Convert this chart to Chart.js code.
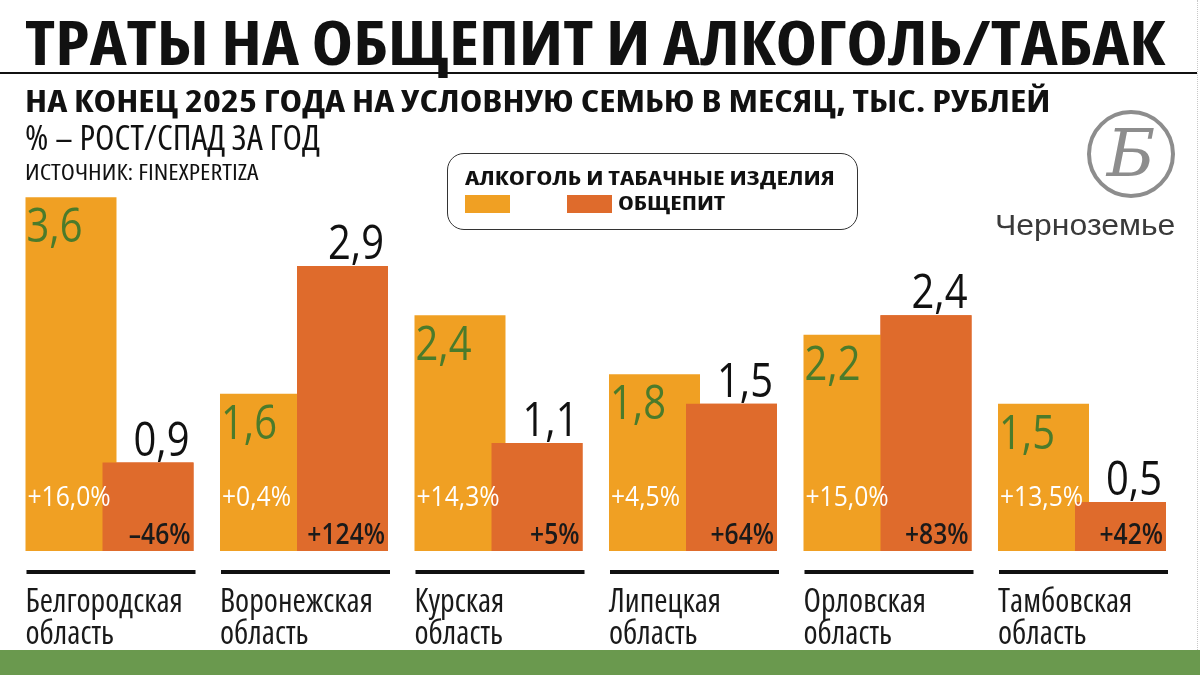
<!DOCTYPE html>
<html lang="ru">
<head>
<meta charset="utf-8">
<script src="https://cdn.jsdelivr.net/npm/chart.js@4.4.1/dist/chart.umd.min.js"></script>
<style>
  body { margin: 0; background: #fff; }
  #wrap { position: relative; width: 1200px; height: 675px; overflow: hidden; background: #fff; }
  #chart { position: absolute; left: 0; top: 0; }
  .txt { position: absolute; white-space: nowrap; line-height: 1; transform-origin: 0 0; color: #111; font-family: 'Open Sans', sans-serif; }
  #rule { position: absolute; left: 0; top: 72px; width: 1197px; height: 2px; background: #111; }
  #legend { position: absolute; left: 447px; top: 153px; width: 409px; height: 75px; border: 1.5px solid #333; border-radius: 17px; }
  .sw { position: absolute; top: 195px; width: 45px; height: 18px; }
  #logo { position: absolute; left: 1087px; top: 110px; width: 80px; height: 80px; border: 4px solid #8d8d8d; border-radius: 50%; }
  #glyph { position: absolute; left: 0; top: 0; width: 80px; height: 80px; text-align: center; line-height: 80px; font-family: 'DejaVu Serif', serif; font-style: italic; font-size: 66px; color: #8d8d8d; }
  #band { position: absolute; left: 0; top: 650px; width: 1200px; height: 25px; background: #6a994e; }
  #edge { position: absolute; left: 1197px; top: 0; width: 0; height: 650px; border-right: 1px dotted #c8c8c8; }
</style>
</head>
<body>
<div id="wrap">
  <canvas id="chart" width="1200" height="675"></canvas>
  <div class="txt" style="left:25px; top:12px; font-size:60px; font-weight:700; font-stretch:semi-condensed;" data-w="1140">ТРАТЫ НА ОБЩЕПИТ И АЛКОГОЛЬ/ТАБАК</div>
  <div id="rule"></div>
  <div class="txt" style="left:25px; top:85px; font-size:31px; font-weight:700; font-stretch:semi-condensed;" data-w="1025">НА КОНЕЦ 2025 ГОДА НА УСЛОВНУЮ СЕМЬЮ В МЕСЯЦ, ТЫС. РУБЛЕЙ</div>
  <div class="txt" style="left:25px; top:119px; font-size:35px; font-stretch:condensed;" data-w="295">% – РОСТ/СПАД ЗА ГОД</div>
  <div class="txt" style="left:25px; top:160px; font-size:22px; font-stretch:condensed;" data-w="233">ИСТОЧНИК: FINEXPERTIZA</div>
  <div id="legend"></div>
  <div class="txt" style="left:465px; top:168px; font-size:20px; font-weight:700; font-stretch:semi-condensed;" data-w="370">АЛКОГОЛЬ И ТАБАЧНЫЕ ИЗДЕЛИЯ</div>
  <div class="sw" style="left:465px; background:#f0a023;"></div>
  <div class="sw" style="left:567px; background:#df6b2c;"></div>
  <div class="txt" style="left:618px; top:193px; font-size:20px; font-weight:700; font-stretch:semi-condensed;" data-w="107">ОБЩЕПИТ</div>
  <div id="logo"><div id="glyph">Б</div></div>
  <div class="txt" style="left:995px; top:210px; font-size:30px; color:#3a3a3a; font-family:'Liberation Sans', Arial, sans-serif;" data-w="180">Черноземье</div>
  <div id="band"></div>
  <div id="edge"></div>
</div>
<script>
const regions = [
  ['Белгородская', 'область'],
  ['Воронежская', 'область'],
  ['Курская', 'область'],
  ['Липецкая', 'область'],
  ['Орловская', 'область'],
  ['Тамбовская', 'область'],
];
const alcoTobacco = [3.6, 1.6, 2.4, 1.8, 2.2, 1.5];
const catering    = [0.9, 2.9, 1.1, 1.5, 2.4, 0.5];
const alcoChange  = ['+16,0%', '+0,4%', '+14,3%', '+4,5%', '+15,0%', '+13,5%'];
const cateringChange = ['–46%', '+124%', '+5%', '+64%', '+83%', '+42%'];

const YELLOW = '#f0a023';
const ORANGE = '#df6b2c';
const GREEN_TEXT = '#4b7b2b';

// squeeze html text to the width it has in the picture
document.querySelectorAll('.txt[data-w]').forEach(el => {
  el.style.transform = `scaleX(${el.dataset.w / el.offsetWidth})`;
});

function drawText(ctx, str, x, y, font, color, align, sx) {
  ctx.save();
  ctx.translate(x, y);
  ctx.scale(sx, 1);
  ctx.font = font;
  ctx.fillStyle = color;
  ctx.textAlign = align;
  ctx.textBaseline = 'alphabetic';
  ctx.fillText(str, 0, 0);
  ctx.restore();
}

const barLabels = {
  id: 'barLabels',
  afterDatasetsDraw(chart) {
    const ctx = chart.ctx;
    const yMeta = chart.getDatasetMeta(0);
    const oMeta = chart.getDatasetMeta(1);
    // orange bar overlaps the yellow one, so paint it again on top
    oMeta.controller.draw();

    yMeta.data.forEach((bar, i) => {
      const left = bar.x - bar.width / 2;
      const val = alcoTobacco[i].toFixed(1).replace('.', ',');
      drawText(ctx, val, left + 1, bar.y + 45, "47px 'Open Sans'", GREEN_TEXT, 'left', 0.85);
      drawText(ctx, alcoChange[i], left + 2, 506, "28px 'Open Sans'", '#fff', 'left', 0.88);
    });
    oMeta.data.forEach((bar, i) => {
      const right = bar.x + bar.width / 2;
      const val = catering[i].toFixed(1).replace('.', ',');
      drawText(ctx, val, right - 4, bar.y - 7, "47px 'Open Sans'", '#111', 'right', 0.85);
      drawText(ctx, cateringChange[i], right - 3, 544, "600 28px 'Open Sans'", '#1a1a1a', 'right', 0.88);
    });

    // short black rule under every region
    ctx.save();
    ctx.fillStyle = '#111';
    yMeta.data.forEach((bar, i) => {
      const x0 = bar.x - bar.width / 2 + 1;
      const x1 = oMeta.data[i].x + oMeta.data[i].width / 2 + 2;
      ctx.fillRect(x0, 570, x1 - x0, 4);
    });
    ctx.restore();
  },
};

new Chart(document.getElementById('chart'), {
  type: 'bar',
  data: {
    labels: regions,
    datasets: [
      { label: 'Алкоголь и табачные изделия', data: alcoTobacco, backgroundColor: YELLOW },
      { label: 'Общепит', data: catering, backgroundColor: ORANGE },
    ],
  },
  options: {
    responsive: false,
    animation: false,
    categoryPercentage: 0.7918,
    barPercentage: 1.1818,
    layout: { padding: { left: 12.25, right: 20.75, top: 158, bottom: 0 } },
    plugins: { legend: { display: false }, tooltip: { enabled: false } },
    scales: {
      y: { display: false, min: 0, max: 4 },
      x: {
        grid: { display: false, drawTicks: false },
        border: { display: false },
        ticks: {
          align: 'start',
          labelOffset: -84,
          padding: 36,
          maxRotation: 0,
          autoSkip: false,
          color: '#1a1a1a',
          // chart.js only checks `style`, so the width keyword rides in `weight`
          font: { family: "'Open Sans'", weight: 'condensed', size: 32, lineHeight: '32px' },
        },
        afterFit(scale) {
          scale.height = 124;
          scale.paddingLeft = 0;
          scale.paddingRight = 0;
        },
      },
    },
  },
  plugins: [barLabels],
});
</script>
</body>
</html>
